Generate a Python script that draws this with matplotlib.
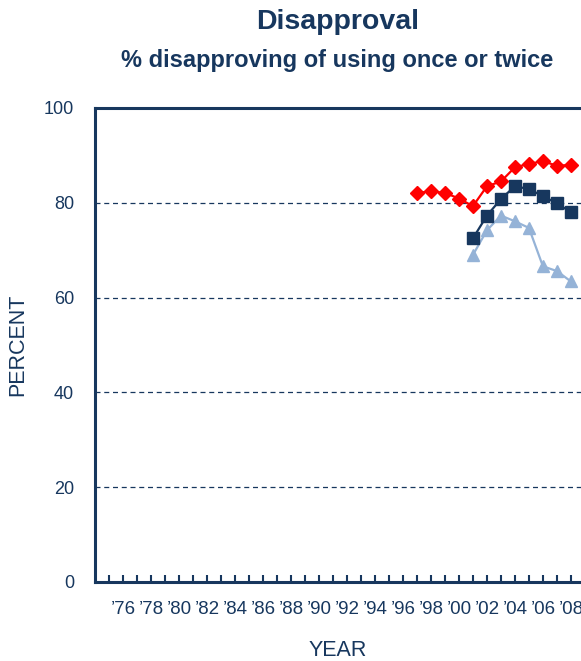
import matplotlib
matplotlib.use("Agg")
import matplotlib.pyplot as plt
import numpy as np

plt.rcParams['font.family'] = ['Liberation Sans', 'DejaVu Sans']

navy = '#17375E'

# survey years and percent disapproving
years_a = [1997, 1998, 1999, 2000, 2001, 2002, 2003, 2004, 2005, 2006, 2007, 2008]
grade_a = [82.1, 82.4, 82.1, 80.9, 79.3, 83.5, 84.5, 87.5, 88.2, 88.8, 87.8, 88.0]

years_b = [2001, 2002, 2003, 2004, 2005, 2006, 2007, 2008]
grade_b = [72.5, 77.3, 80.8, 83.5, 82.9, 81.4, 79.9, 78.0]
grade_c = [69.0, 74.2, 77.3, 76.1, 74.7, 66.6, 65.6, 63.4]

year_ticks = list(range(1976, 2009, 2))
year_labels = ["\u2019%02d" % (y % 100) for y in year_ticks]

fig = plt.figure(figsize=(5.81, 6.61), dpi=100)
ax = fig.add_axes([95/581, 1 - 582/661, 1 - 95/581, (582 - 108)/661])

ax.plot(years_a, grade_a, color='#FF0000', marker='D', ms=7.5, lw=1.6, zorder=4)
ax.plot(years_b, grade_b, color=navy, marker='s', ms=8, lw=1.6, zorder=3)
ax.plot(years_b, grade_c, color='#95B3D7', marker='^', ms=9, lw=1.6, zorder=2)

ax.set_xlim(1974, 2008.72)
ax.set_ylim(0, 100)

for v in [20, 40, 60, 80]:
    ax.axhline(v, color=navy, lw=0.9, ls=(0, (4, 3)), zorder=1)

ax.set_yticks([0, 20, 40, 60, 80, 100])
ax.tick_params(axis='y', length=0, pad=15, labelsize=13, labelcolor=navy)
ax.set_xticks(year_ticks)
ax.set_xticklabels(year_labels)
ax.set_xticks(range(1975, 2009), minor=True)
ax.tick_params(axis='x', which='both', direction='in', length=5, width=1.5,
               color=navy, pad=14, labelsize=13.5, labelcolor=navy)

for s in ['left', 'bottom', 'top']:
    ax.spines[s].set_color(navy)
    ax.spines[s].set_linewidth(2.2)
ax.spines['right'].set_visible(False)

ax.set_ylabel('PERCENT', fontsize=15.5, color=navy, va='center')
ax.yaxis.set_label_coords(-(95 - 18) / 486, 0.5)
ax.set_xlabel('YEAR', fontsize=15.5, color=navy, va='center')
ax.xaxis.set_label_coords(0.5, -(650 - 582) / 474)

fig.text(338/581, 1 - 22/661, 'Disapproval', ha='center', va='center',
         fontsize=20.5, fontweight='bold', color=navy)
fig.text(337/581, 1 - 60/661, '% disapproving of using once or twice', ha='center',
         va='center', fontsize=17, fontweight='bold', color=navy)

fig.savefig('out.png', dpi=100)
